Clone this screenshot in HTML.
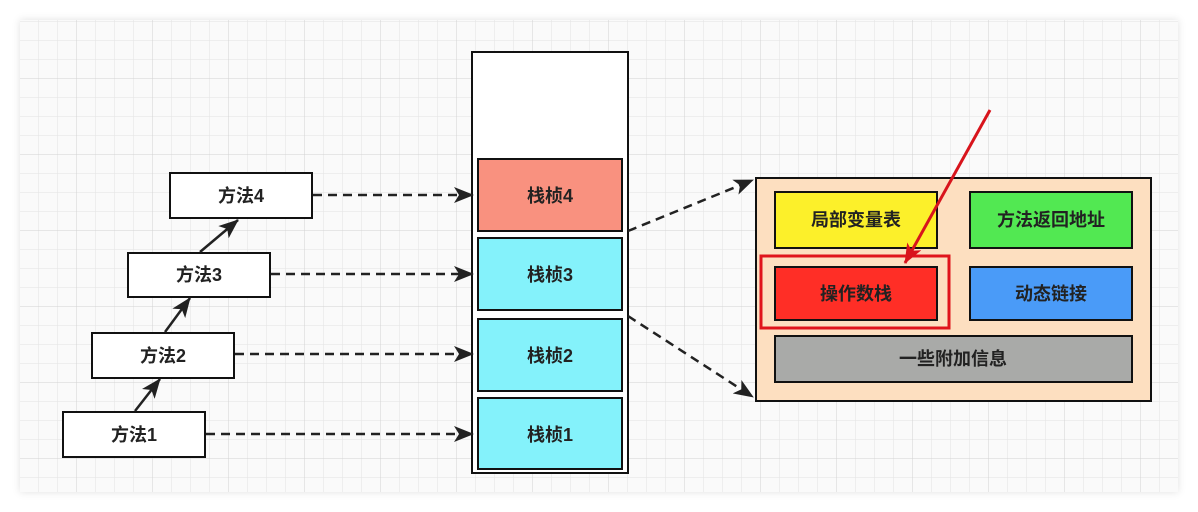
<!DOCTYPE html>
<html><head><meta charset="utf-8"><style>
html,body{margin:0;padding:0;background:#fff;width:1198px;height:512px;overflow:hidden}
text{font-family:"Liberation Sans","Noto Sans CJK SC",sans-serif;font-weight:bold;font-size:18px;fill:#222}
</style></head><body>
<svg width="1198" height="512" xmlns="http://www.w3.org/2000/svg">
<defs>
<pattern id="minor" x="1" y="3" width="19" height="19" patternUnits="userSpaceOnUse"><path d="M19 0V19M0 19H19" fill="none" stroke="#e3e3e3" stroke-width="1"/></pattern>
<pattern id="major" x="1" y="3" width="76" height="76" patternUnits="userSpaceOnUse"><path d="M76 0V76M0 76H76" fill="none" stroke="#d2d2d2" stroke-width="1"/></pattern>
<filter id="sh" x="-5%" y="-10%" width="110%" height="120%"><feDropShadow dx="0" dy="0" stdDeviation="4" flood-color="#000" flood-opacity="0.12"/></filter>
<marker id="ah2" markerWidth="20" markerHeight="16" refX="19" refY="8" orient="auto" markerUnits="userSpaceOnUse" viewBox="0 0 20 16"><path d="M0,0 L20,8 L0,16 L5,8z" fill="#222"/></marker>
<marker id="rh" markerWidth="20" markerHeight="16" refX="19" refY="8" orient="auto" markerUnits="userSpaceOnUse" viewBox="0 0 20 16"><path d="M0,0 L20,8 L0,16 L5,8z" fill="#d8141c"/></marker>
</defs>
<rect x="20" y="20" width="1158" height="472" fill="#fafafa" filter="url(#sh)"/>
<rect x="20" y="20" width="1158" height="472" fill="url(#minor)"/>
<rect x="20" y="20" width="1158" height="472" fill="url(#major)"/>
<g stroke="#111" stroke-width="2" fill="#fff">
<rect x="170" y="173" width="142" height="45"/>
<rect x="128" y="253" width="142" height="44"/>
<rect x="92" y="333" width="142" height="45"/>
<rect x="63" y="412" width="142" height="45"/>
<rect x="472" y="52" width="156" height="421"/>
<rect x="478" y="159" width="144" height="72" fill="#f9917f"/>
<rect x="478" y="238" width="144" height="72" fill="#84f2fb"/>
<rect x="478" y="319" width="144" height="72" fill="#84f2fb"/>
<rect x="478" y="398" width="144" height="71" fill="#84f2fb"/>
<rect x="756" y="178" width="395" height="223" fill="#fddfc0"/>
<rect x="775" y="192" width="162" height="56" fill="#fcf02a"/>
<rect x="970" y="192" width="162" height="56" fill="#52e852"/>
<rect x="775" y="267" width="162" height="53" fill="#ff2e26"/>
<rect x="970" y="267" width="162" height="53" fill="#4a9bf8"/>
<rect x="775" y="336" width="357" height="46" fill="#a9aaa8"/>
</g>
<rect x="761" y="256" width="188" height="72" fill="none" stroke="#e0141c" stroke-width="3"/>
<g stroke="#222" stroke-width="2.5" fill="none">
<line x1="135" y1="411" x2="160" y2="379" marker-end="url(#ah2)"/>
<line x1="165" y1="332" x2="190" y2="298" marker-end="url(#ah2)"/>
<line x1="200" y1="252" x2="238" y2="220" marker-end="url(#ah2)"/>
</g>
<g stroke="#222" stroke-width="2.5" fill="none" stroke-dasharray="9,6">
<line x1="313" y1="195" x2="473" y2="195" marker-end="url(#ah2)"/>
<line x1="271" y1="274" x2="473" y2="274" marker-end="url(#ah2)"/>
<line x1="235" y1="354" x2="473" y2="354" marker-end="url(#ah2)"/>
<line x1="206" y1="434" x2="473" y2="434" marker-end="url(#ah2)"/>
<line x1="628" y1="231" x2="753" y2="180" marker-end="url(#ah2)"/>
<line x1="628" y1="316" x2="753" y2="397" marker-end="url(#ah2)"/>
</g>
<line x1="990" y1="110" x2="905" y2="263" stroke="#d8141c" stroke-width="3" marker-end="url(#rh)"/>
<g text-anchor="middle">
<text x="241" y="202">方法4</text>
<text x="199" y="281">方法3</text>
<text x="163" y="362">方法2</text>
<text x="134" y="441">方法1</text>
<text x="550" y="202">栈桢4</text>
<text x="550" y="281">栈桢3</text>
<text x="550" y="362">栈桢2</text>
<text x="550" y="441">栈桢1</text>
<g style="font-size:16px">
<text x="856" y="226">局部变量表</text>
<text x="1051" y="226">方法返回地址</text>
<text x="856" y="300">操作数栈</text>
<text x="1051" y="300">动态链接</text>
<text x="953" y="365">一些附加信息</text>
</g>
</g>
</svg>
</body></html>
